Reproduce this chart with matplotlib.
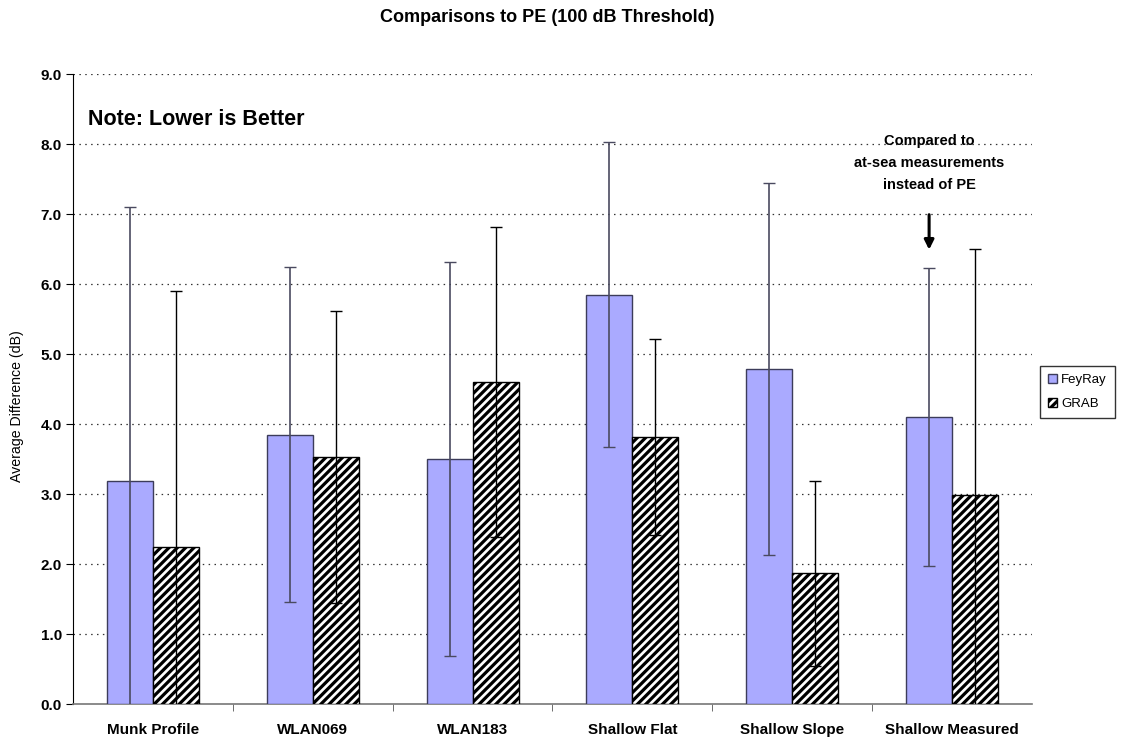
import matplotlib
matplotlib.use("Agg")
import matplotlib.pyplot as plt
import numpy as np

categories = ["Munk Profile", "WLAN069", "WLAN183", "Shallow Flat", "Shallow Slope", "Shallow Measured"]
feyray = [3.19, 3.85, 3.50, 5.85, 4.79, 4.10]
feyray_err = [3.91, 2.39, 2.81, 2.18, 2.66, 2.13]
grab = [2.25, 3.53, 4.60, 3.82, 1.87, 2.98]
grab_err = [3.65, 2.09, 2.21, 1.40, 1.32, 3.52]
yticks = [0, 1, 2, 3, 4, 5, 6, 7, 8, 9]

plt.rcParams['font.family'] = ['Liberation Sans', 'DejaVu Sans']
plt.rcParams['hatch.linewidth'] = 2.3

W, H = 1121, 738
fig = plt.figure(figsize=(W / 100, H / 100), dpi=100)
ax = fig.add_axes([73 / W, (H - 704) / H, 959 / W, 630 / H])

x = np.arange(len(categories))
w = 0.2875

ax.bar(x - w / 2, feyray, w, color='#AAAAFF', edgecolor='#3C3C5A', linewidth=1.0, label='FeyRay', zorder=3)
ax.bar(x + w / 2, grab, w, color='white', edgecolor='black', hatch='////', linewidth=1.0, label='GRAB', zorder=3)
ax.errorbar(x - w / 2, feyray, yerr=feyray_err, fmt='none', ecolor='#4A4A60', elinewidth=1.2, capsize=4, capthick=1.0, zorder=4)
ax.errorbar(x + w / 2, grab, yerr=grab_err, fmt='none', ecolor='black', elinewidth=1.0, capsize=4, capthick=1.0, zorder=4)

ax.set_xlim(-0.5, len(categories) - 0.5)
ax.set_ylim(0, 9)
ax.set_yticks(yticks)
ax.set_yticklabels([f"{v:.1f}" for v in yticks], fontweight='bold', fontsize=11)
ax.set_xticks(x)
ax.set_xticklabels(categories, fontweight='bold', fontsize=11)
ax.set_xticks(np.arange(0.5, len(categories) - 0.5, 1), minor=True)
ax.tick_params(axis='x', which='major', length=0, pad=14)
ax.tick_params(axis='x', which='minor', length=5, direction='out', color='#555555')
ax.tick_params(axis='y', length=5, direction='out', pad=3)

for v in yticks[1:]:
    ax.axhline(v, color='#333333', linestyle=(0, (1.2, 3.5)), linewidth=0.9, zorder=1)

for s in ['top', 'right']:
    ax.spines[s].set_visible(False)
ax.spines['left'].set_color('black')
ax.spines['bottom'].set_color('#777777')
ax.spines['bottom'].set_linewidth(1.2)

ax.set_ylabel("Average Difference (dB)", fontsize=10.2)
ax.yaxis.set_label_coords(-0.051, 0.473)

fig.text(547 / W, 1 - 18 / H, "Comparisons to PE (100 dB Threshold)", ha='center', va='center',
         fontsize=13, fontweight='bold')

ax.text(0.016, 0.927, "Note: Lower is Better", transform=ax.transAxes, fontsize=15.5,
        fontweight='bold', ha='left', va='center')

ax.text(5 - w / 2, 7.73, "Compared to\nat-sea measurements\ninstead of PE", ha='center', va='center',
        fontsize=10.5, fontweight='bold', linespacing=1.75)
ax.annotate("", xy=(5 - w / 2, 6.49), xytext=(5 - w / 2, 6.99),
            arrowprops=dict(arrowstyle='-|>', color='black', lw=2.2, mutation_scale=14,
                            shrinkA=0, shrinkB=0))

leg = fig.legend(loc='center left', bbox_to_anchor=(1040 / W, 1 - 392 / H), frameon=True, fontsize=9.5,
                 handlelength=0.7, handleheight=0.7, handletextpad=0.3, borderpad=0.6,
                 labelspacing=0.9, fancybox=False, borderaxespad=0)
leg.get_frame().set_edgecolor('black')
leg.get_frame().set_linewidth(1.0)

fig.savefig("out.png", dpi=100)
